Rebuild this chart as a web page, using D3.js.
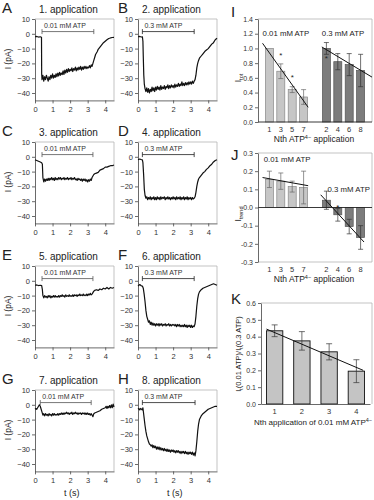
<!DOCTYPE html>
<html>
<head>
<script src="https://cdnjs.cloudflare.com/ajax/libs/d3/7.8.5/d3.min.js"></script>
<style>
    body { margin: 0; background: #fff; font-family: "Liberation Sans", Arial, sans-serif; }
    svg text { fill: #222; }
    .ax text { font-size: 7.5px; fill: #333; font-family: "Liberation Sans", Arial, sans-serif; }
    .ax line, .ax path { stroke: #444; stroke-width: 0.8; }
    .ax.small text { font-size: 7px; }
</style>
</head>
<body>
<svg id="fig" width="374" height="500"></svg>
<script>
// current traces, [t (s), I (pA)]
const traceA = [[0,-2],[0.1,-1.8],[0.2,-2.2],[0.3,-2],[0.37,-2.3],[0.38,-27],[0.4,-31],[0.45,-28],[0.5,-32],[0.55,-29],[0.6,-31],[0.65,-28],[0.7,-30],[0.75,-32],[0.8,-29],[0.85,-31],[0.9,-28],[0.95,-30],[1.0,-27],[1.05,-30],[1.1,-28],[1.15,-29.5],[1.2,-27],[1.25,-29],[1.3,-26.5],[1.35,-28.5],[1.4,-26],[1.45,-28],[1.5,-26.5],[1.55,-27.5],[1.6,-25],[1.65,-27.5],[1.7,-24.5],[1.75,-26.5],[1.8,-24],[1.85,-26],[1.9,-23.5],[1.95,-25.5],[2.0,-24],[2.05,-25],[2.1,-23],[2.15,-25.5],[2.2,-23.5],[2.25,-24.5],[2.3,-22.5],[2.35,-25],[2.4,-23],[2.45,-24.5],[2.5,-22.5],[2.55,-24],[2.6,-22],[2.65,-24.5],[2.7,-22.5],[2.75,-24],[2.8,-22],[2.85,-23.5],[2.9,-22],[2.95,-23.5],[3.0,-22.5],[3.05,-23],[3.1,-21.5],[3.15,-23],[3.2,-21],[3.25,-22],[3.3,-20],[3.35,-18],[3.4,-16],[3.45,-14],[3.5,-13],[3.55,-12],[3.6,-10.5],[3.7,-9],[3.8,-7.5],[3.9,-6],[4.0,-5],[4.1,-4],[4.2,-3.2],[4.3,-2.8],[4.4,-2.5],[4.5,-2.4]];
const traceB = [[0,-2],[0.1,-1.8],[0.2,-2.2],[0.25,-2],[0.28,-5],[0.3,-15],[0.33,-28],[0.36,-34],[0.4,-37],[0.45,-39],[0.5,-36.5],[0.55,-39.5],[0.6,-37],[0.65,-40],[0.7,-37.5],[0.75,-39],[0.8,-36],[0.85,-38.5],[0.9,-36.5],[0.95,-39],[1.0,-36],[1.05,-38],[1.1,-35.5],[1.15,-37.5],[1.2,-36],[1.25,-38],[1.3,-35],[1.35,-37.5],[1.4,-36],[1.45,-37],[1.5,-35],[1.55,-37.5],[1.6,-35.5],[1.65,-36.5],[1.7,-34.5],[1.75,-37],[1.8,-35],[1.85,-36.5],[1.9,-34.5],[1.95,-36],[2.0,-35],[2.05,-36.5],[2.1,-34],[2.15,-36],[2.2,-34.5],[2.25,-35.5],[2.3,-33.5],[2.35,-35.5],[2.4,-34],[2.45,-35],[2.5,-32.5],[2.55,-35],[2.6,-33.5],[2.65,-35],[2.7,-33],[2.75,-34.5],[2.8,-33],[2.85,-34.5],[2.9,-32.5],[2.95,-34],[3.0,-32.5],[3.05,-34],[3.1,-32],[3.15,-33.5],[3.2,-32],[3.25,-31],[3.3,-28],[3.35,-23],[3.4,-20],[3.45,-18],[3.5,-16.5],[3.6,-15],[3.7,-13.5],[3.8,-12],[3.9,-11],[4.0,-10],[4.1,-8.5],[4.2,-7],[4.3,-6],[4.4,-4],[4.5,-3]];
const traceC = [[0,-2],[0.1,-2.5],[0.2,-3],[0.3,-3.5],[0.38,-4],[0.42,-5],[0.45,-14],[0.5,-17],[0.55,-15],[0.6,-16.5],[0.65,-15],[0.7,-16],[0.75,-14.5],[0.8,-16],[0.85,-14.5],[0.9,-15.5],[0.95,-14],[1.0,-15.5],[1.05,-14.5],[1.1,-16],[1.15,-14],[1.2,-15.5],[1.25,-14.5],[1.3,-15.5],[1.35,-14],[1.4,-15],[1.45,-14],[1.5,-15.5],[1.55,-14.5],[1.6,-15],[1.65,-14],[1.7,-15.5],[1.75,-14.5],[1.8,-15],[1.85,-14],[1.9,-15.5],[1.95,-14.5],[2.0,-15],[2.05,-14],[2.1,-15.5],[2.15,-14.5],[2.2,-15],[2.25,-14],[2.3,-15.5],[2.35,-15],[2.4,-16],[2.45,-14.5],[2.5,-15.5],[2.55,-15],[2.6,-16],[2.65,-15],[2.7,-16.5],[2.75,-15],[2.8,-16],[2.85,-15],[2.9,-16.5],[2.95,-15.5],[3.0,-17],[3.05,-15.5],[3.1,-16.5],[3.15,-15],[3.2,-16],[3.25,-14],[3.3,-13],[3.35,-12],[3.4,-11.5],[3.5,-11],[3.6,-10.5],[3.7,-9],[3.8,-8.5],[3.9,-8],[4.0,-7],[4.1,-7],[4.2,-6.5],[4.3,-6],[4.4,-6],[4.5,-5.5]];
const traceD = [[0,-2],[0.1,-1.5],[0.2,-2],[0.25,-2],[0.28,-4],[0.32,-12],[0.36,-22],[0.4,-26],[0.45,-28],[0.5,-27],[0.55,-29],[0.6,-27.5],[0.65,-28.5],[0.7,-27],[0.75,-29],[0.8,-27.5],[0.85,-28.5],[0.9,-27],[0.95,-29],[1.0,-27.5],[1.05,-29],[1.1,-27],[1.15,-28.5],[1.2,-27.5],[1.25,-29],[1.3,-27],[1.35,-28.5],[1.4,-27.5],[1.45,-28],[1.5,-27],[1.55,-29],[1.6,-27.5],[1.65,-28.5],[1.7,-27],[1.75,-28.5],[1.8,-27.5],[1.85,-29],[1.9,-27.5],[1.95,-28.5],[2.0,-27],[2.05,-28.5],[2.1,-27.5],[2.15,-29],[2.2,-27],[2.25,-28.5],[2.3,-27.5],[2.35,-28.5],[2.4,-27],[2.45,-29],[2.5,-27.5],[2.55,-28.5],[2.6,-27],[2.65,-29],[2.7,-27.5],[2.75,-28.5],[2.8,-27],[2.85,-29],[2.9,-27.5],[2.95,-28.5],[3.0,-27.5],[3.05,-29],[3.1,-27.5],[3.15,-28.5],[3.2,-28],[3.25,-27],[3.3,-24],[3.35,-20],[3.4,-17],[3.45,-15],[3.5,-14],[3.6,-12.5],[3.7,-11],[3.8,-10],[3.9,-8.5],[4.0,-7.5],[4.1,-6],[4.2,-5],[4.3,-3.5],[4.4,-2.5],[4.5,-2]];
const traceE = [[0,-3],[0.1,-2.8],[0.2,-3.2],[0.3,-3],[0.38,-3.3],[0.42,-6],[0.45,-10],[0.5,-11.5],[0.55,-10],[0.6,-11],[0.65,-10.5],[0.7,-11.5],[0.75,-10],[0.8,-11],[0.85,-10],[0.9,-11.5],[0.95,-10.5],[1.0,-11],[1.05,-10],[1.1,-11],[1.15,-10],[1.2,-11],[1.25,-10.5],[1.3,-11],[1.35,-10],[1.4,-11],[1.45,-10],[1.5,-10.5],[1.55,-9.5],[1.6,-10.5],[1.65,-10],[1.7,-11],[1.75,-9.5],[1.8,-10.5],[1.85,-10],[1.9,-10.5],[1.95,-9.5],[2.0,-10.5],[2.05,-10],[2.1,-10.5],[2.15,-9.5],[2.2,-10.5],[2.25,-9.5],[2.3,-10],[2.35,-9.5],[2.4,-10.5],[2.45,-9.5],[2.5,-10],[2.55,-9],[2.6,-10],[2.65,-9.5],[2.7,-10],[2.75,-9],[2.8,-10],[2.85,-9.5],[2.9,-10],[2.95,-9],[3.0,-10],[3.05,-9],[3.1,-9.5],[3.15,-8.5],[3.2,-9.5],[3.25,-9],[3.3,-8],[3.35,-7],[3.4,-6.5],[3.5,-6],[3.6,-6.5],[3.7,-5.5],[3.8,-6],[3.9,-5],[4.0,-5.5],[4.1,-4.5],[4.2,-5.5],[4.3,-4.5],[4.4,-5],[4.5,-4.5]];
const traceF = [[0,-3.5],[0.05,-3],[0.1,-2.5],[0.15,-3],[0.2,-3.5],[0.25,-3.5],[0.3,-5],[0.35,-9],[0.4,-14],[0.45,-20],[0.5,-24],[0.55,-26],[0.6,-28],[0.65,-27],[0.7,-29.5],[0.75,-28],[0.8,-30],[0.85,-28.5],[0.9,-30],[0.95,-29],[1.0,-30.5],[1.05,-29],[1.1,-30],[1.15,-29],[1.2,-30.5],[1.25,-29],[1.3,-30],[1.35,-29],[1.4,-30.5],[1.45,-29.5],[1.5,-30],[1.55,-29],[1.6,-30.5],[1.65,-29.5],[1.7,-30],[1.75,-29],[1.8,-30.5],[1.85,-29.5],[1.9,-30.5],[1.95,-29.5],[2.0,-30],[2.05,-29.5],[2.1,-30.5],[2.15,-29.5],[2.2,-31],[2.25,-29.5],[2.3,-30.5],[2.35,-29.5],[2.4,-31],[2.45,-30],[2.5,-31],[2.55,-30],[2.6,-31],[2.65,-29.5],[2.7,-31],[2.75,-30],[2.8,-31.5],[2.85,-30],[2.9,-31],[2.95,-30],[3.0,-31.5],[3.05,-30],[3.1,-31.5],[3.15,-30.5],[3.2,-31],[3.25,-29],[3.3,-24],[3.35,-17],[3.4,-12],[3.45,-9],[3.5,-7.5],[3.6,-6],[3.7,-5],[3.8,-4.5],[3.9,-4],[4.0,-3.5],[4.1,-3],[4.2,-2.5],[4.3,-2],[4.4,-2.5],[4.5,-3]];
const traceG = [[0,-3],[0.05,-2.5],[0.1,-3],[0.15,-2],[0.2,-1],[0.25,0],[0.3,-1],[0.35,-3],[0.4,-5],[0.45,-7],[0.5,-6],[0.55,-7.5],[0.6,-6],[0.65,-7],[0.7,-6.5],[0.75,-7.5],[0.8,-6],[0.85,-7],[0.9,-6.5],[0.95,-7.5],[1.0,-6],[1.05,-7],[1.1,-6],[1.15,-7],[1.2,-6.5],[1.25,-7],[1.3,-6],[1.35,-7],[1.4,-6],[1.45,-6.5],[1.5,-5.5],[1.55,-6.5],[1.6,-5.5],[1.65,-6.5],[1.7,-5.5],[1.75,-6],[1.8,-5],[1.85,-6],[1.9,-5.5],[1.95,-6.5],[2.0,-5.5],[2.05,-6],[2.1,-5],[2.15,-6.5],[2.2,-5.5],[2.25,-6],[2.3,-5],[2.35,-6],[2.4,-5.5],[2.45,-6.5],[2.5,-5.5],[2.55,-6],[2.6,-5.5],[2.65,-6.5],[2.7,-5.5],[2.75,-6],[2.8,-5.5],[2.85,-6.5],[2.9,-5.5],[2.95,-6.5],[3.0,-5.5],[3.05,-6.5],[3.1,-6],[3.15,-7],[3.2,-6],[3.25,-7],[3.3,-8],[3.35,-6],[3.4,-5.5],[3.5,-5],[3.6,-4.5],[3.7,-4],[3.8,-3],[3.9,-2.5],[4.0,-2],[4.05,-1],[4.1,-2.5],[4.15,-1],[4.2,-2],[4.25,-0.5],[4.3,-2],[4.35,0],[4.4,-2],[4.45,0.5],[4.5,-1.5]];
const traceH = [[0,-3],[0.05,-2.5],[0.1,-3.5],[0.15,-2.5],[0.2,-3],[0.25,-3.5],[0.28,-2],[0.3,-4],[0.35,-9],[0.4,-14],[0.45,-18],[0.5,-21],[0.55,-23],[0.6,-25],[0.65,-26.5],[0.7,-27],[0.75,-28],[0.8,-27],[0.85,-29],[0.9,-27.5],[0.95,-29],[1.0,-28],[1.05,-30],[1.1,-28.5],[1.15,-30],[1.2,-28.5],[1.25,-30.5],[1.3,-29],[1.35,-30.5],[1.4,-29.5],[1.45,-31],[1.5,-29.5],[1.55,-31],[1.6,-30],[1.65,-31.5],[1.7,-30],[1.75,-31.5],[1.8,-30.5],[1.85,-32],[1.9,-30.5],[1.95,-31.5],[2.0,-30.5],[2.05,-32],[2.1,-31],[2.15,-32.5],[2.2,-31],[2.25,-32],[2.3,-31],[2.35,-32.5],[2.4,-31.5],[2.45,-33],[2.5,-31.5],[2.55,-32.5],[2.6,-31.5],[2.65,-33],[2.7,-31.5],[2.75,-33],[2.8,-32],[2.85,-33.5],[2.9,-32],[2.95,-33],[3.0,-32],[3.05,-33.5],[3.1,-32],[3.15,-34],[3.2,-32.5],[3.25,-34.5],[3.3,-31],[3.35,-25],[3.4,-18],[3.45,-13],[3.5,-10],[3.6,-7.5],[3.7,-6],[3.8,-5],[3.9,-4],[4.0,-3],[4.1,-2.5],[4.2,-2],[4.3,-1.5],[4.4,-1],[4.5,-1]];

const traces = [traceA, traceB, traceC, traceD, traceE, traceF, traceG, traceH];
const panelLetters = ["A", "B", "C", "D", "E", "F", "G", "H"];
const appTitles = ["1. application", "2. application", "3. application", "4. application",
                   "5. application", "6. application", "7. application", "8. application"];
const appConc = ["0.01 mM ATP", "0.3 mM ATP", "0.01 mM ATP", "0.3 mM ATP",
                 "0.01 mM ATP", "0.3 mM ATP", "0.01 mM ATP", "0.3 mM ATP"];
const appStart = [0.4, 0.25, 0.4, 0.25, 0.4, 0.25, 0.3, 0.25];
const appEnd = [3.35, 3.2, 3.3, 3.2, 3.3, 3.2, 3.2, 3.25];
const currentTicks = [10, 0, -10, -20, -30, -40];
const timeTicks = [0, 1, 2, 3, 4];

// panel I: normalised total current
const lowApps = ["1", "3", "5", "7"];
const highApps = ["2", "4", "6", "8"];
const iLow = [1.0, 0.69, 0.44, 0.34];
const iLowErr = [0, 0.1, 0.04, 0.1];
const iHigh = [1.0, 0.82, 0.78, 0.70];
const iHighErr = [0.08, 0.11, 0.15, 0.22];
const iLowTrend = [1.07, 0.2];
const iHighTrend = [1.02, 0.61];
const iStars = [[1, 0.93], [2, 0.63], [5, 0.88]];

// panel J: trend current
const jLow = [0.155, 0.145, 0.115, 0.11];
const jLowErr = [0.045, 0.045, 0.03, 0.09];
const jHigh = [0.04, -0.04, -0.105, -0.165];
const jHighErr = [0.05, 0.035, 0.04, 0.065];
const jLowTrend = [0.165, 0.12];
const jHighTrend = [0.07, -0.19];
const jStars = [[6, 0.01]];

// panel K: ratio
const kApps = ["1", "2", "3", "4"];
const kRatio = [0.435, 0.375, 0.31, 0.195];
const kErr = [0.035, 0.055, 0.048, 0.068];
const kTrend = [0.445, 0.2];

const svg = d3.select("#fig");
const colX = [35, 138];
const rowTop = [19, 142, 266, 390];

function tracePanel(i) {
    const col = i % 2, row = Math.floor(i / 2);
    const x = d3.scaleLinear().domain([0, 4.5]).range([colX[col], colX[col] + 79]);
    const y = d3.scaleLinear().domain([-45, 10]).range([rowTop[row] + 81.4, rowTop[row]]);
    const g = svg.append("g");

    g.append("path")
        .attr("d", `M${x(0)},${y(10)}H${x(4.5)}V${y(-45)}`)
        .attr("fill", "none").attr("stroke", "#b4b4b4").attr("stroke-width", 0.8);

    g.append("g").attr("class", "ax")
        .attr("transform", `translate(${x(0)},0)`)
        .call(d3.axisLeft(y).tickValues(currentTicks).tickSize(3).tickSizeOuter(0).tickPadding(2));
    g.append("g").attr("class", "ax")
        .attr("transform", `translate(0,${y(-45)})`)
        .call(d3.axisBottom(x).tickValues(timeTicks).tickFormat(d3.format("d"))
            .tickSize(3).tickSizeOuter(0).tickPadding(3));

    // application bar
    const by = y(1.5);
    g.append("path")
        .attr("d", `M${x(appStart[i])},${by - 2.5}V${by + 2.5}M${x(appStart[i])},${by}H${x(appEnd[i])}M${x(appEnd[i])},${by - 2.5}V${by + 2.5}`)
        .attr("fill", "none").attr("stroke", col ? "#222" : "#555").attr("stroke-width", 0.8);
    g.append("text")
        .attr("x", x(appStart[i]) + 2).attr("y", by - 3.5)
        .style("font-size", "7px").style("fill", "#333")
        .text(appConc[i]);

    g.append("path")
        .datum(traces[i])
        .attr("d", d3.line().x(d => x(d[0])).y(d => y(d[1])))
        .attr("fill", "none").attr("stroke", "#111").attr("stroke-width", 1.2)
        .attr("stroke-linejoin", "round");

    g.append("text")
        .attr("x", x(1.9)).attr("y", rowTop[row] - 6)
        .attr("text-anchor", "middle").style("font-size", "10px")
        .text(appTitles[i]);
    g.append("text")
        .attr("x", col ? 118 : 2).attr("y", rowTop[row] - 6)
        .style("font-size", "15px")
        .text(panelLetters[i]);

    if (col === 0) {
        g.append("text")
            .attr("transform", `translate(11,${y(-17)}) rotate(-90)`)
            .attr("text-anchor", "middle").style("font-size", "8.5px")
            .text("I (pA)");
    }
    if (row === 3) {
        g.append("text")
            .attr("x", x(2.1)).attr("y", y(-45) + 25)
            .attr("text-anchor", "middle").style("font-size", "9px")
            .text("t (s)");
    }
}
d3.range(8).forEach(tracePanel);

// shared x for I and J (slots 0-3 low conc, 5-8 high conc)
const xs = d3.scaleLinear().domain([-1, 9]).range([258, 372]);
const barW = 8;
const lightFill = "#c6c6c6", darkFill = "#7c7c7c";

function groupedPanel(opt) {
    const y = d3.scaleLinear().domain(opt.domain).range(opt.range);
    const g = svg.append("g");
    const bars = [];
    opt.low.forEach((v, k) => bars.push({ slot: k, v, e: opt.lowErr[k], fill: lightFill, stroke: "#888", label: lowApps[k] }));
    opt.high.forEach((v, k) => bars.push({ slot: k + 5, v, e: opt.highErr[k], fill: darkFill, stroke: "#555", label: highApps[k] }));

    g.append("path")
        .attr("d", opt.frame(xs, y))
        .attr("fill", "none").attr("stroke", "#b4b4b4").attr("stroke-width", 0.8);

    g.selectAll("rect").data(bars).join("rect")
        .attr("x", d => xs(d.slot) - barW / 2)
        .attr("width", barW)
        .attr("y", d => y(Math.max(d.v, 0)))
        .attr("height", d => Math.abs(y(d.v) - y(0)))
        .attr("fill", d => d.fill).attr("stroke", d => d.stroke).attr("stroke-width", 0.7);

    g.selectAll("path.err").data(bars.filter(d => d.e > 0)).join("path")
        .attr("class", "err")
        .attr("d", d => {
            const cx = xs(d.slot), t = y(d.v + d.e), b = y(d.v - d.e);
            return `M${cx},${t}V${b}M${cx - 2.5},${t}H${cx + 2.5}M${cx - 2.5},${b}H${cx + 2.5}`;
        })
        .attr("fill", "none").attr("stroke", d => d.slot < 5 ? "#666" : "#333").attr("stroke-width", 0.7);

    // zero line
    g.append("line")
        .attr("x1", xs(-1)).attr("x2", xs(9)).attr("y1", y(0)).attr("y2", y(0))
        .attr("stroke", "#222").attr("stroke-width", 0.9);

    // regression lines
    const trends = [[[-0.6, opt.lowTrend[0]], [3.4, opt.lowTrend[1]]],
                    [[opt.highTrendX[0], opt.highTrend[0]], [opt.highTrendX[1], opt.highTrend[1]]]];
    g.selectAll("line.tr").data(trends).join("line")
        .attr("class", "tr")
        .attr("x1", d => xs(d[0][0])).attr("y1", d => y(d[0][1]))
        .attr("x2", d => xs(d[1][0])).attr("y2", d => y(d[1][1]))
        .attr("stroke", "#111").attr("stroke-width", 1);

    g.selectAll("text.star").data(opt.stars).join("text")
        .attr("class", "star")
        .attr("x", d => xs(d[0])).attr("y", d => y(d[1]) + 4)
        .attr("text-anchor", "middle").style("font-size", "8px")
        .text("*");

    g.append("g").attr("class", "ax small")
        .attr("transform", `translate(${xs(-1)},0)`)
        .call(d3.axisLeft(y).tickValues(opt.ticks).tickFormat(d => d.toFixed(1))
            .tickSize(3).tickSizeOuter(0).tickPadding(2));

    g.selectAll("text.xl").data(bars).join("text")
        .attr("class", "xl")
        .attr("x", d => xs(d.slot)).attr("y", opt.range[0] + 10)
        .attr("text-anchor", "middle").style("font-size", "7.5px").style("fill", "#333")
        .text(d => d.label);

    const xt = g.append("text")
        .attr("x", 314).attr("y", opt.range[0] + 20)
        .attr("text-anchor", "middle").style("font-size", "8.5px");
    xt.append("tspan").text("Nth ATP");
    xt.append("tspan").attr("dy", -3).style("font-size", "5.5px").text("4−");
    xt.append("tspan").attr("dy", 3).text(" application");

    g.append("text")
        .attr("x", xs(opt.lowLabel[0])).attr("y", y(opt.lowLabel[1]))
        .style("font-size", "7.8px").text("0.01 mM ATP");
    g.append("text")
        .attr("x", xs(opt.highLabel[0])).attr("y", y(opt.highLabel[1]))
        .style("font-size", "7.8px").text("0.3 mM ATP");

    const yl = g.append("text")
        .attr("transform", `translate(${opt.ylabelX},${opt.ylabelY}) rotate(-90)`)
        .attr("text-anchor", "middle").style("font-size", "8.5px");
    yl.append("tspan").text("I");
    yl.append("tspan").attr("dy", 2).style("font-size", "5.5px").text(opt.sub);

    g.append("text")
        .attr("x", 231).attr("y", opt.letterY)
        .style("font-size", "15px").text(opt.letter);
}

groupedPanel({
    letter: "I", letterY: 17, sub: "tot", ylabelX: 241, ylabelY: 78,
    domain: [0, 1.4], range: [122, 19], ticks: [0, 0.2, 0.4, 0.6, 0.8, 1.0, 1.2, 1.4],
    low: iLow, lowErr: iLowErr, high: iHigh, highErr: iHighErr,
    lowTrend: iLowTrend, highTrend: iHighTrend, highTrendX: [4.6, 9],
    stars: iStars, lowLabel: [-0.6, 1.17], highLabel: [4.6, 1.17],
    frame: (x, y) => `M${x(-1)},${y(1.4)}H${x(9)}V${y(0)}`
});

groupedPanel({
    letter: "J", letterY: 160, sub: "trend", ylabelX: 241, ylabelY: 214,
    domain: [-0.3, 0.3], range: [262, 153], ticks: [-0.3, -0.2, -0.1, 0, 0.1, 0.2, 0.3],
    low: jLow, lowErr: jLowErr, high: jHigh, highErr: jHighErr,
    lowTrend: jLowTrend, highTrend: jHighTrend, highTrendX: [4.5, 8.3],
    stars: jStars, lowLabel: [-0.5, 0.25], highLabel: [5.1, 0.085],
    frame: (x, y) => `M${x(-1)},${y(0.3)}H${x(9)}V${y(-0.3)}H${x(-1)}`
});

// panel K
(function () {
    const x = d3.scaleBand().domain(kApps).range([261, 370]).paddingInner(0.4).paddingOuter(0.2);
    const xc = d3.scaleLinear().domain([1, 4]).range([x("1") + x.bandwidth() / 2, x("4") + x.bandwidth() / 2]);
    const y = d3.scaleLinear().domain([0, 0.6]).range([404, 303]);
    const g = svg.append("g");
    const data = kApps.map((a, k) => ({ a, v: kRatio[k], e: kErr[k] }));

    g.append("path")
        .attr("d", `M261,${y(0.6)}H372V${y(0)}`)
        .attr("fill", "none").attr("stroke", "#b4b4b4").attr("stroke-width", 0.8);

    g.selectAll("rect").data(data).join("rect")
        .attr("x", d => x(d.a)).attr("width", x.bandwidth())
        .attr("y", d => y(d.v)).attr("height", d => y(0) - y(d.v))
        .attr("fill", "#c4c4c4").attr("stroke", "#111").attr("stroke-width", 0.9);

    g.selectAll("path.err").data(data).join("path")
        .attr("class", "err")
        .attr("d", d => {
            const cx = x(d.a) + x.bandwidth() / 2, t = y(d.v + d.e), b = y(d.v - d.e);
            return `M${cx},${t}V${b}M${cx - 3},${t}H${cx + 3}M${cx - 3},${b}H${cx + 3}`;
        })
        .attr("fill", "none").attr("stroke", "#333").attr("stroke-width", 0.7);

    g.append("line")
        .attr("x1", xc(0.7)).attr("y1", y(kTrend[0]))
        .attr("x2", xc(4.25)).attr("y2", y(kTrend[1]))
        .attr("stroke", "#111").attr("stroke-width", 1);

    g.append("g").attr("class", "ax small")
        .attr("transform", "translate(261,0)")
        .call(d3.axisLeft(y).tickValues([0, 0.1, 0.2, 0.3, 0.4, 0.5, 0.6]).tickFormat(d => d.toFixed(1))
            .tickSize(3).tickSizeOuter(0).tickPadding(2));
    g.append("g").attr("class", "ax")
        .attr("transform", `translate(0,${y(0)})`)
        .call(d3.axisBottom(x).tickSize(0).tickPadding(5));

    const xt = g.append("text")
        .attr("x", 313).attr("y", 425)
        .attr("text-anchor", "middle").style("font-size", "8px");
    xt.append("tspan").text("Nth application of 0.01 mM ATP");
    xt.append("tspan").attr("dy", -3).style("font-size", "5.5px").text("4−");

    const yl = g.append("text")
        .attr("transform", `translate(241,354) rotate(-90)`)
        .attr("text-anchor", "middle").style("font-size", "7.5px");
    yl.append("tspan").text("I");
    yl.append("tspan").attr("dy", 2).style("font-size", "5px").text("t");
    yl.append("tspan").attr("dy", -2).text("(0.01 ATP)/I");
    yl.append("tspan").attr("dy", 2).style("font-size", "5px").text("t");
    yl.append("tspan").attr("dy", -2).text("(0.3 ATP)");

    g.append("text")
        .attr("x", 231).attr("y", 304)
        .style("font-size", "15px").text("K");
})();
</script>
</body>
</html>
